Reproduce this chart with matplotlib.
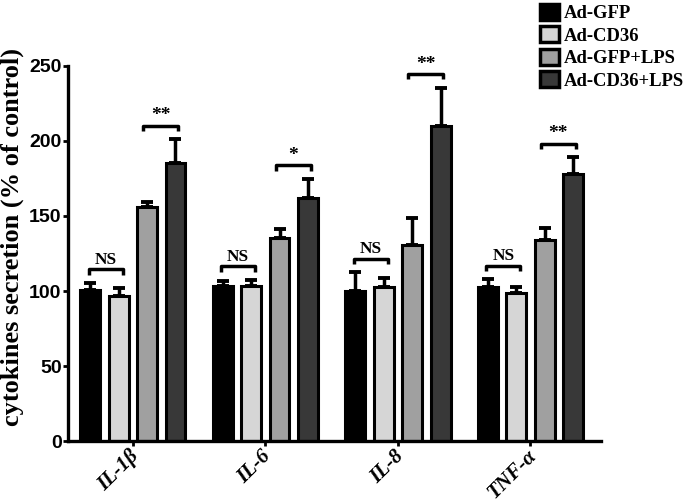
import matplotlib
matplotlib.use("Agg")
import matplotlib.pyplot as plt
import matplotlib.transforms as mtransforms
from matplotlib.patches import Patch
import numpy as np

cytokines = ["IL-1β", "IL-6", "IL-8", "TNF-α"]
groups = ["Ad-GFP", "Ad-CD36", "Ad-GFP+LPS", "Ad-CD36+LPS"]

gfp = [101, 103.5, 100, 103]
gfp_err = [4.5, 3.5, 12.5, 5]
cd36 = [97, 103.5, 103, 99]
cd36_err = [5, 4, 6, 4]
gfp_lps = [156, 135.5, 131, 134]
gfp_lps_err = [3.5, 5.5, 17.5, 8]
cd36_lps = [185, 162, 210, 178]
cd36_lps_err = [16, 12.7, 25.5, 11]

sig_ctrl = ["NS", "NS", "NS", "NS"]
sig_lps = ["**", "*", "**", "**"]

colors = ["#000000", "#d6d6d6", "#a0a0a0", "#383838"]

fig = plt.figure(figsize=(6.85, 5.03), dpi=100)
ax = fig.add_axes([0.099, 0.123, 0.778, 0.746])

x = np.arange(len(cytokines))
offsets = [-0.322, -0.107, 0.107, 0.322]
width = 0.15
series = [(gfp, gfp_err), (cd36, cd36_err), (gfp_lps, gfp_lps_err), (cd36_lps, cd36_lps_err)]

for (vals, errs), off, col, name in zip(series, offsets, colors, groups):
    ax.errorbar(x + off, vals, yerr=[np.zeros(len(errs)), errs], fmt="none",
                ecolor="black", elinewidth=2.5, capsize=4, capthick=2.8, zorder=1)
    ax.bar(x + off, vals, width, color=col, edgecolor="black", linewidth=2.2,
           label=name, zorder=2)


def bracket(x1, x2, h, txt, size):
    ax.plot([x1, x1, x2, x2], [h - 3.5, h, h, h - 3.5], color="black", lw=2.5,
            solid_capstyle="butt", zorder=3)
    ax.text((x1 + x2) / 2, h + 1, txt, ha="center", va="bottom", fontsize=size,
            fontweight="bold", family="Liberation Serif")


for i in range(len(cytokines)):
    h1 = max(gfp[i] + gfp_err[i], cd36[i] + cd36_err[i]) + 9
    bracket(x[i] + offsets[0] - 0.01, x[i] + offsets[1] + 0.03, h1, sig_ctrl[i], 12.5)
    h2 = max(gfp_lps[i] + gfp_lps_err[i], cd36_lps[i] + cd36_lps_err[i]) + 9
    bracket(x[i] + offsets[2] - 0.03, x[i] + offsets[3] + 0.02, h2, sig_lps[i], 14)

ax.set_xlim(-0.49, 3.53)
ax.set_ylim(0, 250)
ax.set_yticks([0, 50, 100, 150, 200, 250])
for s in ["top", "right"]:
    ax.spines[s].set_visible(False)
for s in ["left", "bottom"]:
    ax.spines[s].set_linewidth(2.4)
ax.tick_params(axis="both", width=2, length=3.5)
ax.tick_params(axis="y", pad=1)

for lab in ax.get_yticklabels():
    lab.set_family("Liberation Sans")
    lab.set_fontweight("bold")
    lab.set_fontsize(14)

ax.set_xticks(x)
ax.set_xticklabels(cytokines, rotation=45, ha="right", fontsize=15,
                   fontweight="bold", fontstyle="italic", family="Liberation Serif")
shift = mtransforms.ScaledTranslation(10 / 100, 5 / 100, fig.dpi_scale_trans)
for lab in ax.get_xticklabels():
    lab.set_transform(lab.get_transform() + shift)

ax.set_ylabel("cytokines secretion (% of control)", fontsize=19, fontweight="bold",
              family="Liberation Serif")
ax.yaxis.set_label_coords(-0.082, 0.543)

handles = [Patch(facecolor=c, edgecolor="black", linewidth=2.5) for c in colors]
fig.legend(handles, groups, loc="upper left", bbox_to_anchor=(0.783, 1.0),
           frameon=False, prop={"family": "Liberation Serif", "weight": "bold", "size": 13.4},
           handlelength=1.0, handleheight=0.95, handletextpad=0.3, labelspacing=0.22,
           borderaxespad=0.1, borderpad=0.1)

fig.savefig("out.png", dpi=100)
